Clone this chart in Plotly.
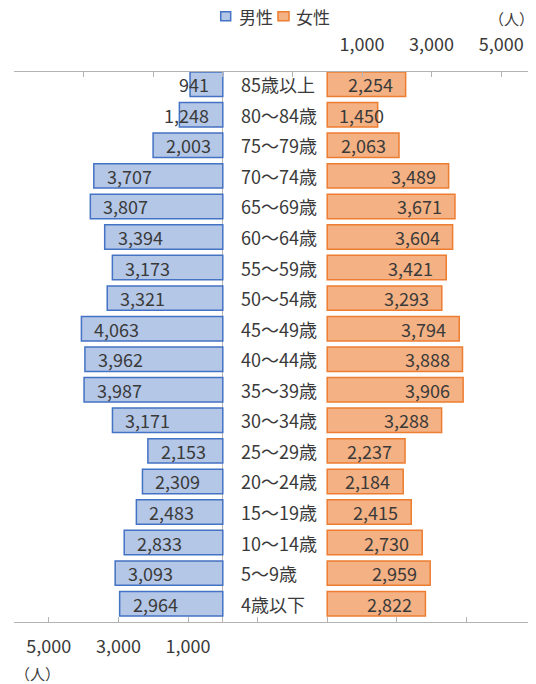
import plotly.graph_objects as go

# ---- data ----
categories = ["85歳以上", "80～84歳", "75～79歳", "70～74歳", "65～69歳", "60～64歳",
              "55～59歳", "50～54歳", "45～49歳", "40～44歳", "35～39歳", "30～34歳",
              "25～29歳", "20～24歳", "15～19歳", "10～14歳", "5～9歳", "4歳以下"]
male = [941, 1248, 2003, 3707, 3807, 3394, 3173, 3321, 4063, 3962, 3987, 3171,
        2153, 2309, 2483, 2833, 3093, 2964]
female = [2254, 1450, 2063, 3489, 3671, 3604, 3421, 3293, 3794, 3888, 3906, 3288,
          2237, 2184, 2415, 2730, 2959, 2822]
series_names = ["男性", "女性"]
unit_label = "（人）"
tick_values = [-9000, -7000, -5000, -3000, -1000, 1000, 3000, 5000]

# ---- styling ----
FONT = "Noto Sans CJK JP, Noto Sans, sans-serif"
TXT = "#3a3a3a"
AXIS = "#b3b3b3"
FS = 18
MALE_FILL, MALE_LINE = "#B4C7E7", "#4472C4"
FEM_FILL, FEM_LINE = "#F4B183", "#ED7D31"
LABEL_MIN = 1900  # below this a label no longer fits inside its bar

ticktext = [f"{v:,}" if v > 0 else "" for v in tick_values]
n = len(categories)

fig = go.Figure()
fig.add_trace(go.Bar(y=categories, x=male, orientation="h", name=series_names[0],
                     xaxis="x", yaxis="y", showlegend=False,
                     marker=dict(color=MALE_FILL, line=dict(color=MALE_LINE, width=1.5))))
fig.add_trace(go.Bar(y=categories, x=female, orientation="h", name=series_names[1],
                     xaxis="x2", yaxis="y", showlegend=False,
                     marker=dict(color=FEM_FILL, line=dict(color=FEM_LINE, width=1.5))))

ann = []
for c, m, f in zip(categories, male, female):
    # male labels (inside end, reversed axis)
    if m >= LABEL_MIN:
        ann.append(dict(x=m, y=c, xref="x", yref="y", text=f"{m:,}", xanchor="left",
                        xshift=11, showarrow=False))
    else:
        ann.append(dict(x=0, y=c, xref="x", yref="y", text=f"{m:,}", xanchor="right",
                        xshift=-12, showarrow=False))
    # female labels
    if f >= LABEL_MIN:
        ann.append(dict(x=f, y=c, xref="x2", yref="y", text=f"{f:,}", xanchor="right",
                        xshift=-11, showarrow=False))
    else:
        ann.append(dict(x=0, y=c, xref="x2", yref="y", text=f"{f:,}", xanchor="left",
                        xshift=10, showarrow=False))
    # category label
    ann.append(dict(x=0, y=c, xref="x", yref="y", text=c, xanchor="left",
                    xshift=16, showarrow=False))

# unit labels
ann.append(dict(x=1, y=1.097, xref="paper", yref="paper", text=unit_label,
                xanchor="right", yanchor="middle", showarrow=False, xshift=0,
                font=dict(size=15)))
ann.append(dict(x=0, y=-0.094, xref="paper", yref="paper", text=unit_label,
                xanchor="left", yanchor="middle", showarrow=False, xshift=-1,
                font=dict(size=15)))

# legend (compact, drawn as key squares + text)
legend_items = [
    dict(name=series_names[0], fill=MALE_FILL, line=MALE_LINE, x0=0.396, x1=0.4151, tx=0.4266),
    dict(name=series_names[1], fill=FEM_FILL, line=FEM_LINE, x0=0.5057, x1=0.5268, tx=0.5364),
]
shapes = []
for it in legend_items:
    shapes.append(dict(type="rect", xref="paper", yref="paper", x0=it["x0"], x1=it["x1"],
                       y0=1.0933, y1=1.1096, fillcolor=it["fill"],
                       line=dict(color=it["line"], width=1.5)))
    ann.append(dict(x=it["tx"], y=1.1, xref="paper", yref="paper", text=it["name"],
                    xanchor="left", yanchor="middle", showarrow=False,
                    font=dict(size=17)))

axis_common = dict(tickvals=tick_values, ticktext=ticktext, ticks="inside", ticklen=5,
                   tickcolor=AXIS, showline=True, linecolor=AXIS, linewidth=1,
                   showgrid=False, tickfont=dict(size=FS, color=TXT), fixedrange=True,
                   automargin=False)

# the page body adds an 8px offset, so the figure is sized to fit inside the window
fig.update_layout(
    width=528, height=676,
    margin=dict(l=6, r=0, t=64, b=62, autoexpand=False),
    paper_bgcolor="white", plot_bgcolor="white",
    font=dict(family=FONT, size=FS, color=TXT),
    barmode="overlay", bargap=0.2,
    showlegend=False,
    xaxis=dict(range=[6000, -9000], side="bottom", zeroline=True, zerolinecolor=AXIS,
               zerolinewidth=1, ticklabelstandoff=8, **axis_common),
    xaxis2=dict(range=[-9000, 6000], side="top", overlaying="x", zeroline=False,
                ticklabelstandoff=13, **axis_common),
    yaxis=dict(range=[n - 0.4, -0.4], showticklabels=False, showline=False,
               showgrid=False, zeroline=False, ticks="", fixedrange=True,
               automargin=False),
    annotations=ann,
    shapes=shapes,
)

fig.write_html("out.html")
